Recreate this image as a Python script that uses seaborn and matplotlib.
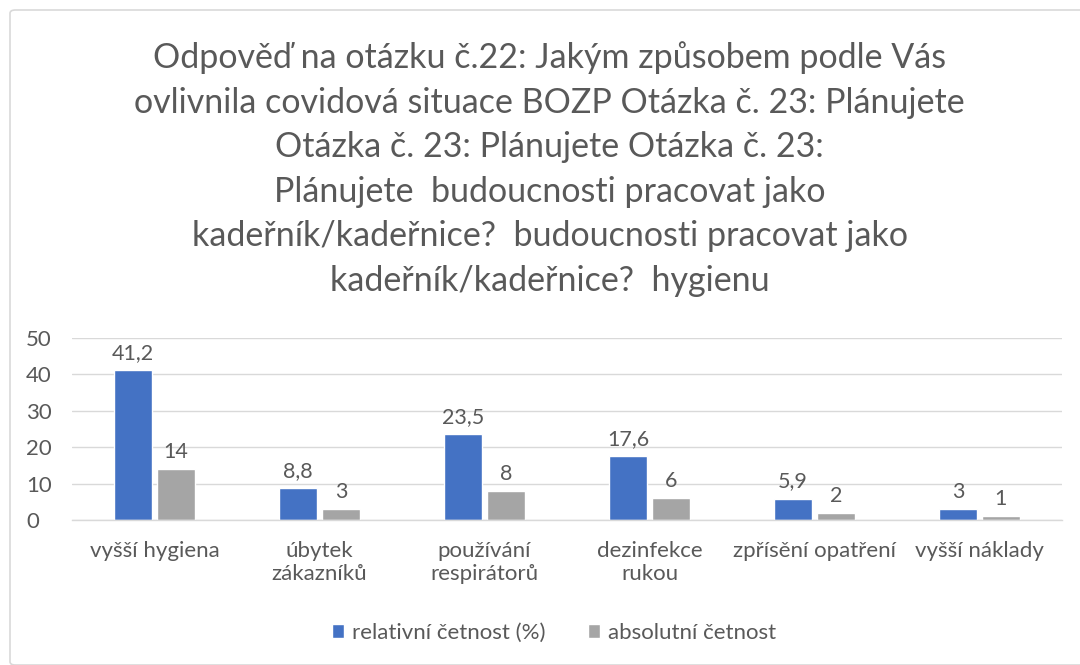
import matplotlib.pyplot as plt
import pandas as pd
import seaborn as sns
from matplotlib.patches import FancyBboxPatch

# Data
categories = ['vyšší hygiena', 'úbytek\nzákazníků', 'používání\nrespirátorů',
              'dezinfekce\nrukou', 'zpřísění opatření', 'vyšší náklady']
relativni = [41.2, 8.8, 23.5, 17.6, 5.9, 3]
absolutni = [14, 3, 8, 6, 2, 1]
series_names = ['relativní četnost (%)', 'absolutní četnost']

title_lines = [
    'Odpověď na otázku č.22: Jakým způsobem podle Vás',
    'ovlivnila covidová situace BOZP Otázka č. 23: Plánujete',
    'Otázka č. 23: Plánujete Otázka č. 23:',
    'Plánujete  budoucnosti pracovat jako',
    'kadeřník/kadeřnice?  budoucnosti pracovat jako',
    'kadeřník/kadeřnice?  hygienu',
]

df = pd.DataFrame({
    'kategorie': categories * 2,
    'hodnota': relativni + absolutni,
    'serie': [series_names[0]] * len(categories) + [series_names[1]] * len(categories),
})

sns.set_style('white')
plt.rcParams['font.family'] = ['Lato', 'DejaVu Sans']
text_color = '#595959'

fig = plt.figure(figsize=(10.8, 6.65), dpi=100)

# chart border
fig.patches.append(FancyBboxPatch((10 / 1080, 0.0), 1.2, 1 - 10 / 665,
                                  boxstyle='round,pad=0,rounding_size=0.005',
                                  transform=fig.transFigure, fill=False,
                                  edgecolor='#D9D9D9', linewidth=1.2))

ax = fig.add_axes([72 / 1080, 145 / 665, 990 / 1080, 182 / 665])
sns.barplot(data=df, x='kategorie', y='hodnota', hue='serie',
            palette=['#4472C4', '#A5A5A5'], width=0.52, gap=0.12,
            saturation=1, ax=ax, legend=True)

ax.set_ylim(0, 50)
ax.set_yticks(range(0, 51, 10))
ax.yaxis.grid(True, color='#D9D9D9', linewidth=1)
ax.set_axisbelow(True)
for side in ['top', 'right', 'left']:
    ax.spines[side].set_visible(False)
ax.spines['bottom'].set_color('#D9D9D9')
ax.spines['bottom'].set_linewidth(1)
ax.set_xlabel('')
ax.set_ylabel('')
ax.tick_params(axis='both', length=0, labelsize=16, colors=text_color)
ax.tick_params(axis='x', pad=15)
ax.tick_params(axis='y', pad=33)
for lbl in ax.get_yticklabels():
    lbl.set_horizontalalignment('left')
for lbl in ax.get_xticklabels():
    lbl.set_linespacing(1.2)

for cont in ax.containers:
    ax.bar_label(cont, fmt=lambda v: f'{v:g}'.replace('.', ','),
                 padding=5, fontsize=15.5, color=text_color)

handles, labels = ax.get_legend_handles_labels()
ax.get_legend().remove()
fig.legend(handles, labels, loc='center', bbox_to_anchor=(0.513, 1 - 633 / 665),
           ncol=2, frameon=False, fontsize=16, labelcolor=text_color,
           handlelength=0.55, handleheight=0.55, handletextpad=0.35,
           columnspacing=1.9)

fig.text(0.509, 1 - 169 / 665, '\n'.join(title_lines), ha='center', va='center',
         fontsize=24.5, color=text_color, linespacing=1.48)

fig.savefig('out.png', dpi=100)
plt.close(fig)
